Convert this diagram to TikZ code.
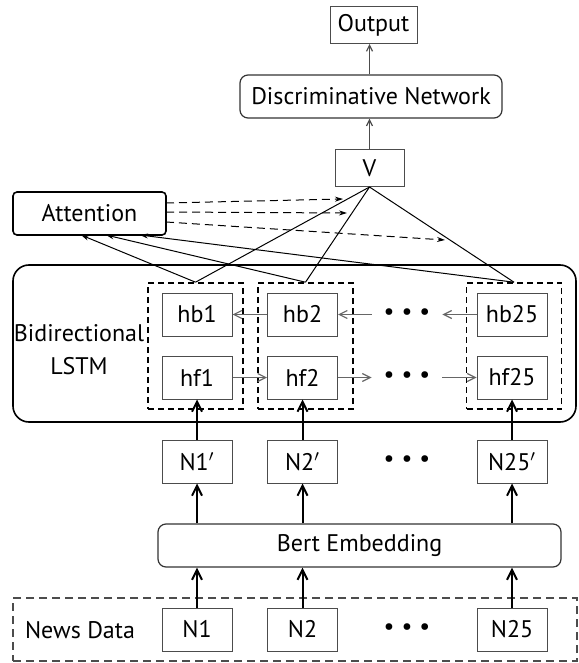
\documentclass[tikz,border=0pt]{standalone}
\usepackage{fontspec}
\setmainfont{PT Sans}
\usetikzlibrary{arrows.meta,positioning}

\begin{document}
\begin{tikzpicture}[
x=0.5pt,y=-0.5pt,
font=\fontsize{12}{14}\selectfont,
cell/.style={
  draw=black!70,
  line width=0.5pt,
  minimum width=35pt,
  minimum height=21.5pt,
  inner sep=0pt
},
panel/.style={
  draw=black!80,
  rounded corners=4pt,
  line width=0.6pt,
  minimum height=21.5pt,
  inner sep=0pt
},
group/.style={
  draw,
  dash pattern=on 3pt off 2pt,
  line width=0.8pt,
  minimum width=47.5pt,
  minimum height=63pt,
  inner sep=0pt
},
dots/.style={
  minimum width=35pt,
  inner sep=0pt
},
up/.style={
  -{Straight Barb[length=5pt,width=5pt]},
  line width=1pt
},
side/.style={
  -{Straight Barb[length=4pt,width=4pt]},
  draw=black!60,
  line width=0.6pt
},
link/.style={
  line width=0.5pt
},
attn/.style={
  -{Stealth[length=4pt,width=2.5pt]},
  line width=0.5pt
},
lift/.style={
  -{Straight Barb[length=3pt,width=3pt]},
  draw=black!70,
  line width=0.6pt
}
]
\useasboundingbox (0,0) rectangle (578,663);

\node[cell,minimum width=43.5pt,minimum height=18.5pt]
  (out) at (373.5,25) {Output};
\node[panel,minimum width=131pt]
  (disc) at (371,96.5) {Discriminative Network};
\node[cell,minimum width=34.5pt,minimum height=18.5pt]
  (v) at (369.5,168) {V};
\node[panel,draw=black,rounded corners=2pt,line width=0.8pt,minimum width=76.5pt]
  (att) at (89.5,213.5) {Attention};

\node[panel,draw=black,rounded corners=8pt,line width=0.8pt,minimum width=281.5pt,minimum height=78.5pt]
  (lstm) at (294.5,343.5) {};
\node[align=center,font=\fontsize{12}{16.5}\selectfont]
  (bilstm) at (79,350) {Bidirectional\\LSTM};

\node[group] (g1) at (195.5,346) {};
\node[group] (g2) at (305.5,346) {};
\node[group] (g3) at (514,346) {};

\node[cell] (hb1) at (197,314.5) {hb1};
\node[cell] (hb2) at (302.5,314.5) {hb2};
\node[dots] (dotsb) at (407,314.5) {\textbullet\hspace{3.5pt}\textbullet\hspace{3.5pt}\textbullet};
\node[cell] (hb25) at (512,314.5) {hb25};

\node[cell] (hf1) at (197,377.5) {hf1};
\node[cell] (hf2) at (302.5,377.5) {hf2};
\node[dots] (dotsf) at (407,377.5) {\textbullet\hspace{3.5pt}\textbullet\hspace{3.5pt}\textbullet};
\node[cell] (hf25) at (512,377.5) {hf25};

\node[cell] (n1p) at (197,461.5) {N1$'$};
\node[cell] (n2p) at (302.5,461.5) {N2$'$};
\node[dots] (dotsp) at (407,461.5) {\textbullet\hspace{3.5pt}\textbullet\hspace{3.5pt}\textbullet};
\node[cell] (n25p) at (512,461.5) {N25$'$};

\node[panel,minimum width=201.5pt]
  (bert) at (359.5,545.5) {Bert Embedding};

\node[draw=black!70,dash pattern=on 4pt off 2.5pt,line width=0.7pt,minimum width=282pt,minimum height=31.5pt,inner sep=0pt]
  (news) at (295,629.5) {};
\node (newslbl) at (80,630) {News Data};
\node[cell] (n1) at (197,629.5) {N1};
\node[cell] (n2) at (302.5,629.5) {N2};
\node[dots] (dotsn) at (407,629.5) {\textbullet\hspace{3.5pt}\textbullet\hspace{3.5pt}\textbullet};
\node[cell] (n25) at (512,629.5) {N25};

\coordinate (a1) at (81,235);
\coordinate (a2) at (106,235);
\coordinate (a3) at (140,235);
\coordinate (e1) at (166,203);
\coordinate (e2) at (166,212);
\coordinate (e3) at (166,222);
\coordinate (d1) at (343,199);
\coordinate (d2) at (347,213);
\coordinate (d3) at (445,240);

\draw[up] (n1) -- (n1 |- bert.south);
\draw[up] (n2) -- (n2 |- bert.south);
\draw[up] (n25) -- (n25 |- bert.south);
\draw[up] (bert.north -| n1p) -- (n1p);
\draw[up] (bert.north -| n2p) -- (n2p);
\draw[up] (bert.north -| n25p) -- (n25p);
\draw[up] (n1p) -- (hf1);
\draw[up] (n2p) -- (hf2);
\draw[up] (n25p) -- (hf25);

\draw[side] (hf1) -- (hf2);
\draw[side] (hf2) -- (dotsf);
\draw[side] (dotsf) -- (hf25);
\draw[side] (hb2) -- (hb1);
\draw[side] (dotsb) -- (hb2);
\draw[side] (hb25) -- (dotsb);

\draw[link] (g1.north) -- (v.south);
\draw[link] (g2.north) -- (v.south);
\draw[link] (g3.north) -- (v.south);
\draw[attn] (g1.north) -- (a1);
\draw[attn] (g2.north) -- (a2);
\draw[attn] (g3.north) -- (a3);

\draw[attn,dash pattern=on 4pt off 2.5pt] (e1) -- (d1);
\draw[attn,dash pattern=on 4pt off 2.5pt] (e2) -- (d2);
\draw[attn,dash pattern=on 4pt off 2.5pt] (e3) -- (d3);

\draw[lift] (v.north) -- (v.north |- disc.south);
\draw[lift] (disc.north -| v.north) -- (out.south -| v.north);
\end{tikzpicture}
\end{document}
